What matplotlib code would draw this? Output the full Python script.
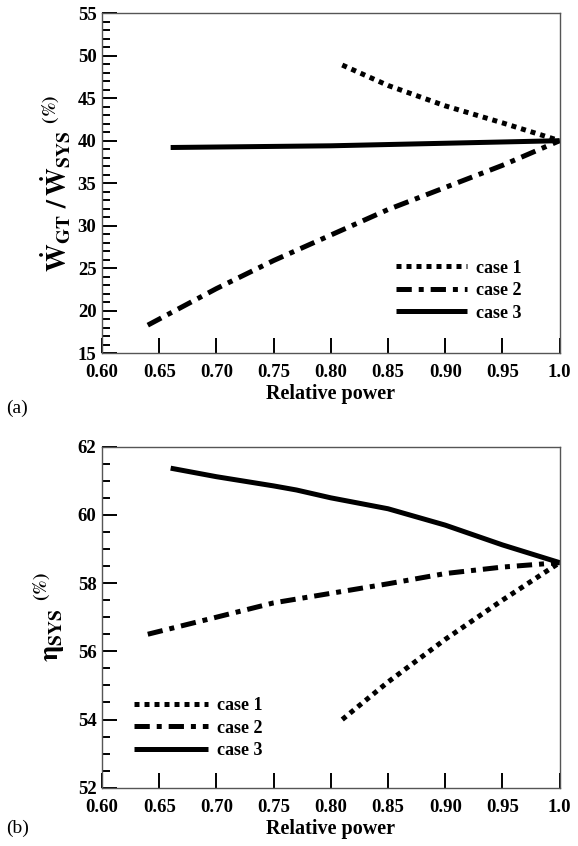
import numpy as np
import matplotlib
matplotlib.use('Agg')
import matplotlib.pyplot as plt

plt.rcParams['font.family'] = 'Liberation Serif'
plt.rcParams['font.weight'] = 'bold'
plt.rcParams['mathtext.fontset'] = 'stix'
plt.rcParams['lines.scale_dashes'] = False

# (a) gas turbine power share
a_x1 = [0.81, 0.85, 0.90, 0.95, 1.0]
a_y1 = [48.9, 46.5, 44.1, 42.1, 40.0]
a_x2 = [0.64, 0.70, 0.75, 0.80, 0.85, 0.90, 0.95, 1.0]
a_y2 = [18.3, 22.6, 25.9, 28.9, 31.9, 34.5, 37.1, 40.0]
a_x3 = [0.66, 0.80, 0.90, 1.0]
a_y3 = [39.2, 39.4, 39.7, 40.0]

# (b) system efficiency
b_x1 = [0.81, 0.85, 0.90, 0.95, 1.0]
b_y1 = [54.0, 55.1, 56.35, 57.5, 58.6]
b_x2 = [0.64, 0.70, 0.75, 0.80, 0.85, 0.90, 0.95, 1.0]
b_y2 = [56.5, 57.0, 57.42, 57.7, 57.98, 58.28, 58.47, 58.6]
b_x3 = [0.66, 0.70, 0.75, 0.77, 0.80, 0.85, 0.90, 0.95, 1.0]
b_y3 = [61.37, 61.12, 60.85, 60.73, 60.5, 60.18, 59.7, 59.12, 58.6]

labels = ['case 1', 'case 2', 'case 3']
xticks = [0.60, 0.65, 0.70, 0.75, 0.80, 0.85, 0.90, 0.95, 1.0]
xticklabels = ['0.60', '0.65', '0.70', '0.75', '0.80', '0.85', '0.90', '0.95', '1.0']

lw = 3.6
st1 = dict(color='k', lw=lw, linestyle=(0, (3.6, 3.6)), dash_capstyle='butt')
st2 = dict(color='k', lw=lw, linestyle=(0, (11, 5, 3.6, 5)), dash_capstyle='butt')
st3 = dict(color='k', lw=lw, linestyle='-', solid_capstyle='butt')

fig = plt.figure(figsize=(5.78, 8.46), dpi=100)
ax1 = fig.add_axes([0.1765, 0.5825, 0.7917, 0.4019])
ax2 = fig.add_axes([0.1765, 0.0689, 0.7917, 0.4031])


def style_axes(ax, ylim, ymaj, ymin):
    ax.set_xlim(0.6, 1.0)
    ax.set_ylim(*ylim)
    ax.set_xticks(xticks)
    ax.set_xticklabels(xticklabels)
    ax.set_yticks(np.arange(ylim[0], ylim[1] + 0.01, ymaj))
    ax.set_yticks(np.arange(ylim[0], ylim[1] + 0.01, ymin), minor=True)
    ax.tick_params(axis='x', direction='in', length=11, width=1.4,
                   labelsize=13.5, pad=8, top=False)
    ax.tick_params(axis='y', which='major', direction='in', length=11,
                   width=1.4, labelsize=13.5, pad=4, right=False)
    ax.tick_params(axis='y', which='minor', direction='in', length=6,
                   width=1.4, right=False)
    for s in ax.spines.values():
        s.set_color('#555555')
        s.set_linewidth(1.0)
    ax.set_xlabel('Relative power', fontsize=14.5, fontweight='bold', labelpad=2)


ax1.plot(a_x1, a_y1, label=labels[0], **st1)
ax1.plot(a_x2, a_y2, label=labels[1], **st2)
ax1.plot(a_x3, a_y3, label=labels[2], **st3)
style_axes(ax1, (15, 55), 5, 1)
ax1.set_ylabel(r'$\dot{\mathbf{W}}_{\mathbf{GT}}\ \mathbf{/}\,\dot{\mathbf{W}}_{\mathbf{SYS}}\ ^{\mathrm{(\%)}}$',
               fontsize=20, labelpad=4)
ax1.legend(loc='upper left', bbox_to_anchor=(0.643, 0.275), frameon=False,
           fontsize=13, handlelength=3.9, handletextpad=0.5, labelspacing=0.3,
           borderpad=0, borderaxespad=0)
fig.text(0.01, 0.517, '(a)', fontsize=14, fontweight='normal', va='center')

ax2.plot(b_x1, b_y1, label=labels[0], **st1)
ax2.plot(b_x2, b_y2, label=labels[1], **st2)
ax2.plot(b_x3, b_y3, label=labels[2], **st3)
style_axes(ax2, (52, 62), 2, 0.5)
ax2.set_ylabel(r'$\mathrm{\eta}_{\mathbf{SYS}}\ ^{\mathrm{(\%)}}$', fontsize=20,
               fontweight='normal', labelpad=8)
ax2.legend(loc='upper left', bbox_to_anchor=(0.07, 0.265), frameon=False,
           fontsize=13, handlelength=4.1, handletextpad=0.5, labelspacing=0.3,
           borderpad=0, borderaxespad=0)
fig.text(0.01, 0.021, '(b)', fontsize=14, fontweight='normal', va='center')

fig.savefig('out.png', dpi=100)
